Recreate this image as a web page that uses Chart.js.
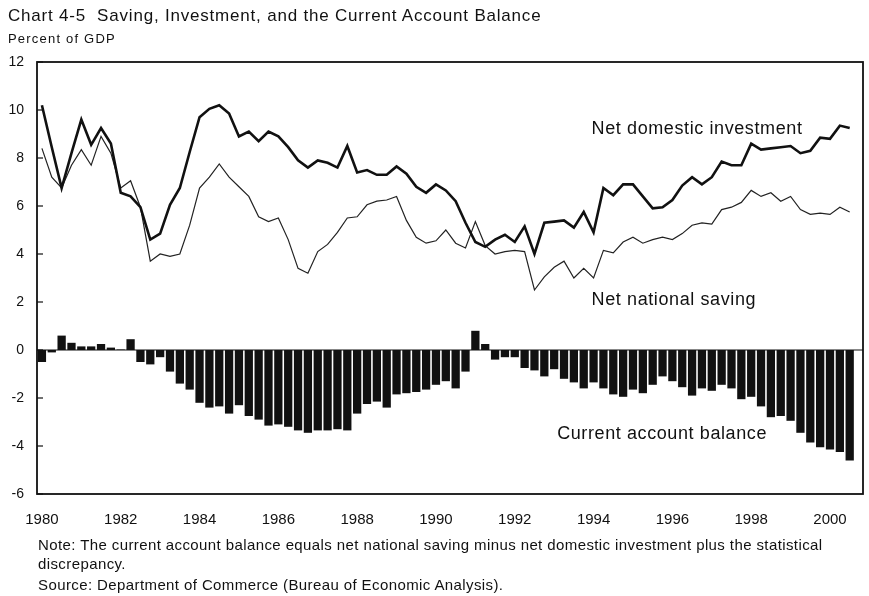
<!DOCTYPE html>
<html>
<head>
<meta charset="utf-8">
<title>Chart 4-5</title>
<script src="https://cdn.jsdelivr.net/npm/chart.js@4.4.1/dist/chart.umd.min.js"></script>
<style>
  body { margin: 0; background: #fff; }
  #wrap { position: relative; width: 869px; height: 596px; font-family: "Liberation Sans", Arial, sans-serif; color: #111; }
  #wrap canvas { position: absolute; left: 0; top: 0; }
  .txt { position: absolute; left: 8px; white-space: nowrap; line-height: 1; }
  .note { left: 38px; font-size: 15px; letter-spacing: 0.4px; }
</style>
</head>
<body>
<div id="wrap">
  <canvas id="chart" width="869" height="596"></canvas>
  <div class="txt" style="top:7px; font-size:17px; letter-spacing:0.8px;">Chart 4-5&nbsp; Saving, Investment, and the Current Account Balance</div>
  <div class="txt" style="top:32px; font-size:13px; letter-spacing:1.2px;">Percent of GDP</div>
  <div class="txt note" style="top:537px;">Note: The current account balance equals net national saving minus net domestic investment plus the statistical</div>
  <div class="txt note" style="top:556px;">discrepancy.</div>
  <div class="txt note" style="top:577px;">Source: Department of Commerce (Bureau of Economic Analysis).</div>
</div>
<script>
// quarterly, 1980Q1 .. 2000Q3 (percent of GDP)
const quarters = [];
for (let yr = 1980; yr <= 2000; yr++) {
  for (let q = 1; q <= 4; q++) quarters.push(yr + 'Q' + q);
}
quarters.length = 83;

const yearTicks = [1980, 1982, 1984, 1986, 1988, 1990, 1992, 1994, 1996, 1998, 2000];

const investment = [
  10.2, 8.45, 6.75, 8.2, 9.6, 8.55, 9.25, 8.6, 6.55, 6.4,
  5.95, 4.6, 4.85, 6.05, 6.75, 8.25, 9.7, 10.05, 10.2, 9.85,
  8.9, 9.1, 8.7, 9.1, 8.9, 8.45, 7.9, 7.6, 7.9, 7.8,
  7.6, 8.5, 7.4, 7.5, 7.3, 7.3, 7.65, 7.35, 6.8, 6.55,
  6.9, 6.65, 6.2, 5.3, 4.5, 4.3, 4.6, 4.8, 4.5, 5.15,
  4.0, 5.3, 5.35, 5.4, 5.1, 5.75, 4.9, 6.75, 6.45, 6.9,
  6.9, 6.4, 5.9, 5.95, 6.25, 6.85, 7.2, 6.9, 7.2, 7.85,
  7.7, 7.7, 8.6, 8.35, 8.4, 8.45, 8.5, 8.2, 8.3, 8.85,
  8.8, 9.35, 9.25
];

const saving = [
  8.4, 7.2, 6.75, 7.7, 8.35, 7.7, 8.9, 8.2, 6.75, 7.05,
  5.95, 3.7, 4.0, 3.9, 4.0, 5.2, 6.75, 7.2, 7.75, 7.2,
  6.8, 6.4, 5.55, 5.35, 5.5, 4.6, 3.4, 3.2, 4.1, 4.4,
  4.9, 5.5, 5.55, 6.05, 6.2, 6.25, 6.4, 5.4, 4.7, 4.45,
  4.55, 5.0, 4.45, 4.25, 5.35, 4.35, 4.0, 4.1, 4.15, 4.1,
  2.5, 3.05, 3.45, 3.7, 3.0, 3.4, 3.0, 4.15, 4.05, 4.5,
  4.7, 4.45, 4.6, 4.7, 4.6, 4.85, 5.2, 5.3, 5.25, 5.85,
  5.95, 6.15, 6.65, 6.4, 6.55, 6.2, 6.4, 5.85, 5.65, 5.7,
  5.65, 5.95, 5.75
];

const currentAccount = [
  -0.5, -0.1, 0.6, 0.3, 0.15, 0.15, 0.25, 0.1, 0.02, 0.45,
  -0.5, -0.6, -0.3, -0.9, -1.4, -1.65, -2.2, -2.4, -2.35, -2.65,
  -2.3, -2.75, -2.9, -3.15, -3.1, -3.2, -3.35, -3.45, -3.35, -3.35,
  -3.3, -3.35, -2.65, -2.25, -2.15, -2.4, -1.85, -1.8, -1.75, -1.65,
  -1.45, -1.3, -1.6, -0.9, 0.8, 0.25, -0.4, -0.3, -0.3, -0.75,
  -0.85, -1.1, -0.8, -1.2, -1.35, -1.6, -1.35, -1.6, -1.85, -1.95,
  -1.65, -1.8, -1.45, -1.1, -1.3, -1.55, -1.9, -1.6, -1.7, -1.45,
  -1.6, -2.05, -1.95, -2.35, -2.8, -2.75, -2.95, -3.45, -3.85, -4.05,
  -4.15, -4.25, -4.6
];

// label text, anchored at [quarter index, value] of its left/baseline
const seriesLabels = [
  { text: 'Net domestic investment', at: [55.8, 9.0] },
  { text: 'Net national saving', at: [55.8, 1.88] },
  { text: 'Current account balance', at: [52.3, -3.7] }
];

const toPoints = vals => vals.map((v, i) => ({ x: i, y: v }));

const frame = {
  id: 'frame',
  beforeDatasetsDraw(chart) {
    const { ctx, chartArea: a, scales: { y } } = chart;
    const z = y.getPixelForValue(0);
    ctx.save();
    ctx.strokeStyle = '#111';
    ctx.lineWidth = 1.2;
    ctx.beginPath();
    ctx.moveTo(a.left, z);
    ctx.lineTo(a.right, z);
    ctx.stroke();
    ctx.restore();
  },
  afterDraw(chart) {
    const { ctx, chartArea: a, scales: { x, y } } = chart;
    ctx.save();
    ctx.strokeStyle = '#111';
    ctx.lineWidth = 1.8;
    ctx.strokeRect(a.left, a.top, a.right - a.left, a.bottom - a.top);
    // short ticks pointing into the plot
    ctx.lineWidth = 1.2;
    y.ticks.forEach(t => {
      const py = y.getPixelForValue(t.value);
      ctx.beginPath();
      ctx.moveTo(a.left, py);
      ctx.lineTo(a.left + 6, py);
      ctx.stroke();
    });
    ctx.fillStyle = '#111';
    ctx.font = '18px "Liberation Sans", Arial, sans-serif';
    ctx.letterSpacing = '0.6px';
    ctx.textBaseline = 'alphabetic';
    seriesLabels.forEach(l => {
      ctx.fillText(l.text, x.getPixelForValue(l.at[0]), y.getPixelForValue(l.at[1]));
    });
    ctx.restore();
  }
};

new Chart(document.getElementById('chart'), {
  type: 'bar',
  data: {
    labels: quarters,
    datasets: [
      {
        type: 'line',
        label: 'Net domestic investment',
        data: toPoints(investment),
        borderColor: '#111',
        borderWidth: 2.6,
        pointRadius: 0,
        tension: 0
      },
      {
        type: 'line',
        label: 'Net national saving',
        data: toPoints(saving),
        borderColor: '#222',
        borderWidth: 1.2,
        pointRadius: 0,
        tension: 0
      },
      {
        type: 'bar',
        label: 'Current account balance',
        data: toPoints(currentAccount),
        backgroundColor: '#111',
        borderWidth: 0,
        barPercentage: 0.84,
        categoryPercentage: 1
      }
    ]
  },
  options: {
    responsive: false,
    animation: false,
    layout: { padding: { top: 62, right: 6, bottom: 62, left: 0 } },
    plugins: {
      legend: { display: false },
      tooltip: { enabled: false }
    },
    scales: {
      x: {
        type: 'linear',
        min: -0.5,
        max: 83.35,
        offset: false,
        grid: { display: false, drawTicks: false },
        border: { display: false },
        afterBuildTicks: scale => {
          scale.ticks = yearTicks.map(yr => ({ value: (yr - 1980) * 4 }));
        },
        afterFit: scale => { scale.height = 40; },
        ticks: {
          autoSkip: false,
          maxRotation: 0,
          padding: 17,
          color: '#111',
          font: { family: '"Liberation Sans", Arial, sans-serif', size: 15 },
          callback: v => String(1980 + v / 4)
        }
      },
      y: {
        min: -6,
        max: 12,
        grid: { display: false, drawTicks: false },
        border: { display: false },
        afterFit: scale => { scale.width = 37; },
        ticks: {
          stepSize: 2,
          padding: 13,
          color: '#111',
          font: { family: '"Liberation Sans", Arial, sans-serif', size: 14 }
        }
      }
    }
  },
  plugins: [frame]
});
</script>
</body>
</html>
